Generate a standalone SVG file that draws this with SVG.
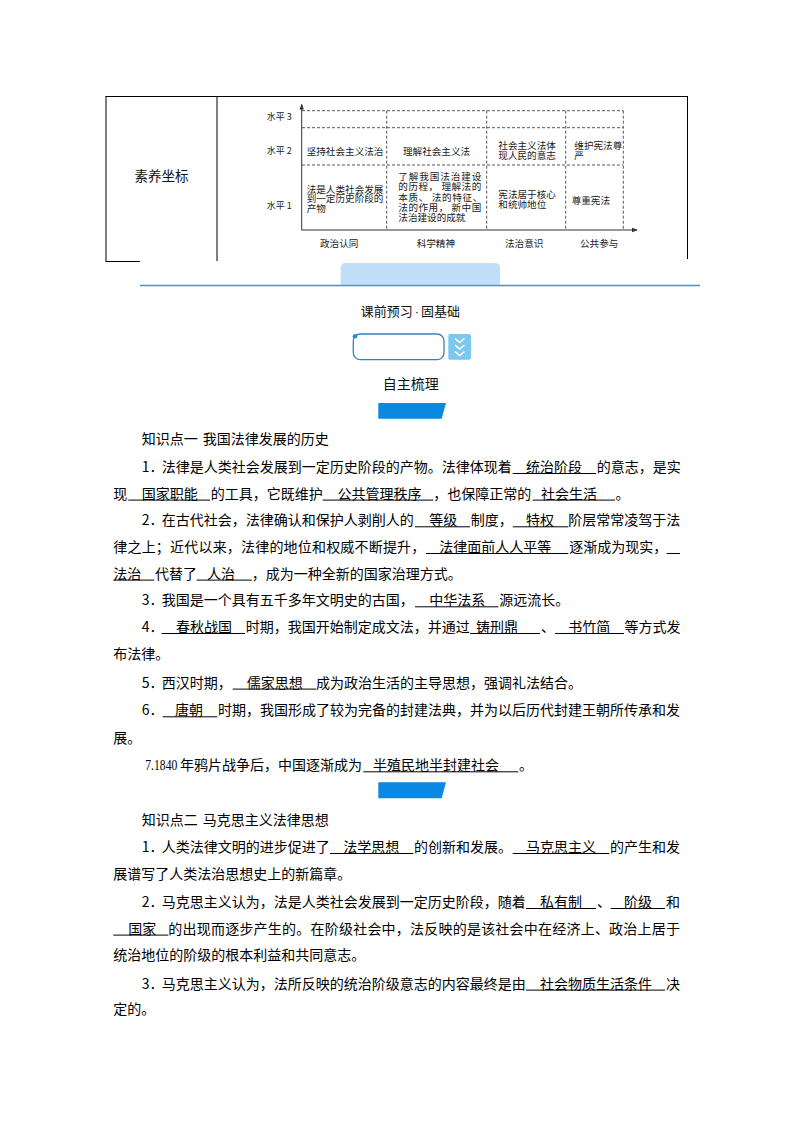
<svg xmlns="http://www.w3.org/2000/svg" width="794" height="1123" viewBox="0 0 794 1123">
<defs>
<style>
.t{font-family:"Noto Sans CJK SC","Noto Sans",sans-serif;font-size:14px;fill:#000}
.c{font-family:"Noto Sans CJK SC","Noto Sans",sans-serif;font-size:9.6px;fill:#1a1a1a}
.h{font-family:"Noto Sans CJK SC","Noto Sans",sans-serif;font-size:9px;fill:#1a1a1a}
.u{stroke:#000;stroke-width:1;fill:none}
.d{stroke:#444;stroke-width:0.9;stroke-dasharray:3 2;fill:none}
.k{stroke:#000;stroke-width:1;fill:none}
.ax{stroke:#333;stroke-width:1;fill:none}
</style>
<marker id="ar" viewBox="0 0 6 6" refX="5" refY="3" markerWidth="6" markerHeight="6" orient="auto" markerUnits="userSpaceOnUse"><path d="M0,0.8 L6,3 L0,5.2z" fill="#333"/></marker>
</defs>
<rect width="794" height="1123" fill="#fff"/>

<g id="table">
<path class="k" d="M105.5,96.5 H688 M106,96 V262 M217,96 V261 M687.5,96 V259 M106,261.5 H140"/>
<text x="161.5" y="181" text-anchor="middle" style="font-family:'Noto Sans CJK SC',sans-serif;font-size:13.5px;fill:#111">素养坐标</text>
</g>

<g id="chart">
<g id="grid">
<path class="d" d="M302,110.7 H623.3 M302,127.7 H623.3 M302,165 H623.3 M386.7,110.7 V230 M486.7,110.7 V230 M565.7,110.7 V230 M623.3,110.7 V230"/>
</g>
<g id="axes">
<path class="ax" d="M301.7,230 V104.5" marker-end="url(#ar)"/>
<path class="ax" d="M301.7,230 H637" marker-end="url(#ar)"/>
</g>
<g id="levels">
<text class="h" x="266.7" y="120.4">水平 3</text>
<text class="h" x="266.7" y="154.4">水平 2</text>
<text class="h" x="266.7" y="209.4">水平 1</text>
</g>
<g id="col-politics">
<text class="c" x="306.7" y="155.3">坚持社会主义法治</text>
<text class="c"><tspan x="306.7" y="192.6">法是人类社会发展</tspan><tspan x="306.7" y="202.3">到一定历史阶段的</tspan><tspan x="306.7" y="212.3">产物</tspan></text>
</g>
<g id="col-science">
<text class="c" x="403" y="155.3">理解社会主义法</text>
<text class="c"><tspan x="398.3" y="180.3" textLength="83" lengthAdjust="spacing">了解我国法治建设</tspan><tspan x="398.3" y="190.3" textLength="83" lengthAdjust="spacing">的历程， 理解法的</tspan><tspan x="398.3" y="200.9" textLength="84" lengthAdjust="spacing">本质、 法的特征、</tspan><tspan x="398.3" y="210.9" textLength="83" lengthAdjust="spacing">法的作用， 新中国</tspan><tspan x="398.3" y="220.9">法治建设的成就</tspan></text>
</g>
<g id="col-law">
<text class="c"><tspan x="498.3" y="148.6">社会主义法体</tspan><tspan x="498.3" y="158.6">现人民的意志</tspan></text>
<text class="c"><tspan x="498.3" y="197.6">宪法居于核心</tspan><tspan x="498.3" y="207.6">和统帅地位</tspan></text>
</g>
<g id="col-public">
<text class="c"><tspan x="574.3" y="148.6">维护宪法尊</tspan><tspan x="574.3" y="158.6">严</tspan></text>
<text class="c" x="571.7" y="203.6">尊重宪法</text>
</g>
<g id="axis-labels">
<text class="c" x="320" y="246.9">政治认同</text>
<text class="c" x="416.7" y="246.9">科学精神</text>
<text class="c" x="505" y="246.9">法治意识</text>
<text class="c" x="580" y="246.9">公共参与</text>
</g>
</g>

<g id="header">
<path d="M340.7,284.7 V268 Q340.7,263 345.7,263 H495 Q500,263 500,268 V284.7 Z" fill="#bfdff8"/>
<path d="M140,285.5 H700" stroke="#4f8cbf" stroke-width="1.3"/>
<text x="360.7" y="316.2" style="font-family:'Noto Sans CJK SC',sans-serif;font-size:13px;fill:#111">课前预习<tspan dx="2" style="font-family:'Liberation Sans',sans-serif">·</tspan><tspan dx="2">固基础</tspan></text>
<rect x="353.3" y="334" width="90.7" height="25.7" rx="7" fill="#fff" stroke="#3b7fb6" stroke-width="1.3"/>
<circle cx="355" cy="336.3" r="2.3" fill="#1e8fd8"/>
<rect x="448.3" y="334" width="22.7" height="25.7" rx="2" fill="#7cc7ee"/>
<path d="M455,338.5 L459.7,342.5 L464.4,338.5 M455,345 L459.7,349 L464.4,345 M455,351.5 L459.7,355.5 L464.4,351.5" stroke="#fff" stroke-width="1.6" fill="none"/>
<text x="410.8" y="389.3" text-anchor="middle" style="font-family:'Noto Sans CJK SC',sans-serif;font-size:14px;fill:#111">自主梳理</text>
<path d="M378.3,403 H446 L441.7,418.7 H378.3 Z" fill="#0b88e0"/>
</g>

<g id="section1">
<text class="t" x="141.7" y="443.6">知识点一</text>
<text class="t" x="202.7" y="443.6">我国法律发展的历史</text>

<text class="t" x="141.7" y="472">1．</text>
<text class="t" x="161.7" y="472">法律是人类社会发展到一定历史阶段的产物。法律体现着</text>
<text class="t" x="526" y="472">统治阶段</text>
<text class="t" x="596.7" y="472">的意志，是实</text>
<path class="u" d="M512.7,473.5 H596"/>

<text class="t" x="113.3" y="498.6">现</text>
<text class="t" x="141.7" y="498.6">国家职能</text>
<text class="t" x="210.7" y="498.6">的工具，它既维护</text>
<text class="t" x="337.5" y="498.6">公共管理秩序</text>
<text class="t" x="433.3" y="498.6">，也保障正常的</text>
<text class="t" x="541" y="498.6">社会生活</text>
<text class="t" x="615.5" y="498.6">。</text>
<path class="u" d="M128.3,500.1 H210 M322.7,500.1 H433.3 M532.7,500.1 H615"/>

<text class="t" x="141.7" y="525.3">2．</text>
<text class="t" x="161.7" y="525.3">在古代社会，法律确认和保护人剥削人的</text>
<text class="t" x="429.3" y="525.3">等级</text>
<text class="t" x="470.7" y="525.3">制度，</text>
<text class="t" x="526" y="525.3">特权</text>
<text class="t" x="568.3" y="525.3">阶层常常凌驾于法</text>
<path class="u" d="M415,526.8 H470 M512.7,526.8 H568.3"/>

<text class="t" x="113.3" y="552" textLength="312" lengthAdjust="spacing">律之上；近代以来，法律的地位和权威不断提升，</text>
<text class="t" x="439.3" y="552">法律面前人人平等</text>
<text class="t" x="569.3" y="552">逐渐成为现实，</text>
<path class="u" d="M426,553.5 H568.3 M666.7,553.5 H680"/>

<text class="t" x="113.3" y="578.6">法治</text>
<text class="t" x="155" y="578.6">代替了</text>
<text class="t" x="207" y="578.6">人治</text>
<text class="t" x="251.7" y="578.6">，成为一种全新的国家治理方式。</text>
<path class="u" d="M113.3,580.1 H154.3 M196.7,580.1 H251.7"/>

<text class="t" x="141.7" y="605.3">3．</text>
<text class="t" x="161.7" y="605.3">我国是一个具有五千多年文明史的古国，</text>
<text class="t" x="429.3" y="605.3">中华法系</text>
<text class="t" x="499.3" y="605.3">源远流长。</text>
<path class="u" d="M415,606.8 H498.3"/>

<text class="t" x="141.7" y="632">4．</text>
<text class="t" x="176" y="632">春秋战国</text>
<text class="t" x="245.7" y="632">时期，我国开始制定成文法，并通过</text>
<text class="t" x="476" y="632">铸刑鼎</text>
<text class="t" x="541" y="632">、</text>
<text class="t" x="568.3" y="632">书竹简</text>
<text class="t" x="624.5" y="632">等方式发</text>
<path class="u" d="M161.7,633.5 H245 M470,633.5 H540 M555,633.5 H624"/>

<text class="t" x="113.3" y="658.6">布法律。</text>

<text class="t" x="141.7" y="687.6">5．</text>
<text class="t" x="161.7" y="687.6">西汉时期，</text>
<text class="t" x="246.7" y="687.6">儒家思想</text>
<text class="t" x="316" y="687.6">成为政治生活的主导思想，强调礼法结合。</text>
<path class="u" d="M232.7,689.1 H316"/>

<text class="t" x="141.7" y="715.3">6．</text>
<text class="t" x="175" y="715.3">唐朝</text>
<text class="t" x="218" y="715.3">时期，我国形成了较为完备的封建法典，并为以后历代封建王朝所传承和发</text>
<path class="u" d="M162.7,716.8 H217.3"/>

<text class="t" x="113.3" y="743">展。</text>

<text x="145.3" y="770.3" textLength="32" lengthAdjust="spacingAndGlyphs" style="font-family:'Liberation Serif',serif;font-size:14px;fill:#000">7.1840</text>
<text class="t" x="180" y="770.3">年鸦片战争后，中国逐渐成为</text>
<text class="t" x="373" y="770.3">半殖民地半封建社会</text>
<text class="t" x="519" y="770.3">。</text>
<path class="u" d="M363.3,771.8 H518.3"/>

<path d="M378.3,782.3 H446 L441.7,798.3 H378.3 Z" fill="#0b88e0"/>
</g>

<g id="section2">
<text class="t" x="141.7" y="825.3">知识点二</text>
<text class="t" x="202.7" y="825.3">马克思主义法律思想</text>

<text class="t" x="141.7" y="852">1．</text>
<text class="t" x="161.7" y="852">人类法律文明的进步促进了</text>
<text class="t" x="343.3" y="852">法学思想</text>
<text class="t" x="414" y="852">的创新和发展。</text>
<text class="t" x="526" y="852">马克思主义</text>
<text class="t" x="610" y="852">的产生和发</text>
<path class="u" d="M330,853.5 H413.3 M512.7,853.5 H609.3"/>

<text class="t" x="113.3" y="878.6">展谱写了人类法治思想史上的新篇章。</text>

<text class="t" x="141.7" y="907">2．</text>
<text class="t" x="161.7" y="907">马克思主义认为，法是人类社会发展到一定历史阶段，随着</text>
<text class="t" x="540" y="907">私有制</text>
<text class="t" x="597" y="907">、</text>
<text class="t" x="624" y="907">阶级</text>
<text class="t" x="666" y="907">和</text>
<path class="u" d="M526,908.5 H596 M610.7,908.5 H665"/>

<text class="t" x="128.3" y="933.6">国家</text>
<text class="t" x="168.3" y="933.6" textLength="511.7" lengthAdjust="spacing">的出现而逐步产生的。在阶级社会中，法反映的是该社会中在经济上、政治上居于</text>
<path class="u" d="M113.3,935.1 H168.3"/>

<text class="t" x="113.3" y="960.3">统治地位的阶级的根本利益和共同意志。</text>

<text class="t" x="141.7" y="988.6">3．</text>
<text class="t" x="161.7" y="988.6">马克思主义认为，法所反映的统治阶级意志的内容最终是由</text>
<text class="t" x="540" y="988.6">社会物质生活条件</text>
<text class="t" x="666" y="988.6">决</text>
<path class="u" d="M526,990.1 H665"/>

<text class="t" x="113.3" y="1014.3">定的。</text>
</g>
</svg>
